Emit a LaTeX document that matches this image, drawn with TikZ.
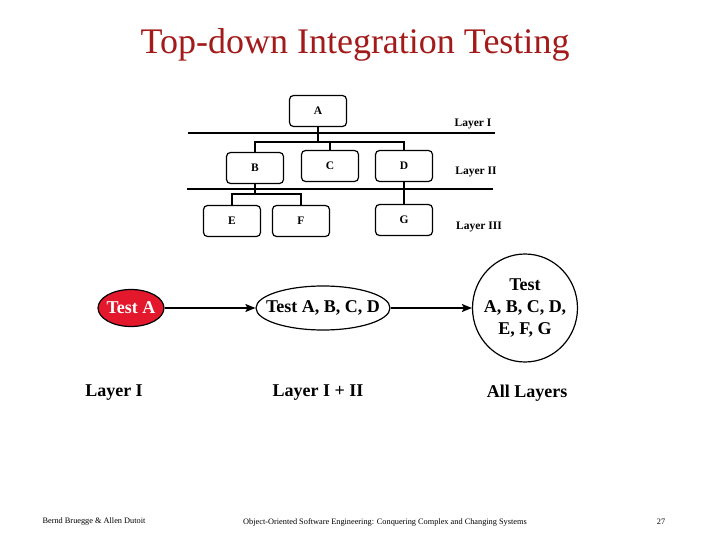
\documentclass[tikz,border=0pt]{standalone}
\usepackage{fontspec}
\setmainfont{Liberation Serif}
\usetikzlibrary{positioning,arrows.meta,shapes.geometric}
\definecolor{titlered}{HTML}{A31A1A}
\definecolor{testred}{HTML}{E3182D}

\begin{document}
\begin{tikzpicture}[x=1pt,y=-1pt,
  module/.style={draw, line width=1.2pt, rounded corners=4pt, minimum width=57pt, minimum height=31pt, inner sep=0pt, font=\fontsize{11.5}{13}\selectfont\bfseries},
  layertag/.style={font=\fontsize{11.5}{13}\selectfont\bfseries},
  stage/.style={draw, ellipse, line width=1.2pt, inner ysep=0pt, align=center, font=\fontsize{18}{22}\selectfont\bfseries},
  layerlbl/.style={font=\fontsize{18}{22}\selectfont\bfseries},
  footer/.style={font=\fontsize{8.3}{9}\selectfont},
  link/.style={line width=1.3pt},
  flow/.style={line width=1.3pt, -{Stealth[length=10pt,width=8pt,inset=2pt]}}]
\useasboundingbox (0,0) rectangle (720,540);
% title
\node[anchor=base, text=titlered, font=\fontsize{36}{40}\selectfont] (title) at (355,54) {Top-down Integration Testing};
% call hierarchy
\node[module] (A) at (318,111) {A};
\node[module] (B) at (255,168) {B};
\node[module] (C) at (330,166) {C};
\node[module] (D) at (404,166) {D};
\node[module] (E) at (232,221) {E};
\node[module] (F) at (301,221) {F};
\node[module] (G) at (404,220) {G};
\coordinate (jA) at (318,142);
\coordinate (jB) at (255,194);
\draw[link] (A.south) -- (jA);
\draw[link] (B.north) |- (jA) -| (D.north);
\draw[link] (C.north) -- (C.north |- jA);
\draw[link] (B.south) -- (jB);
\draw[link] (E.north) |- (jB) -| (F.north);
\draw[link] (D.south) -- (G.north);
% layer separators
\draw[link] (188,133) -- (495,133);
\draw[link] (187,189) -- (493,189);
\node[layertag] (tagI) at (473,124) {Layer I};
\node[layertag] (tagII) at (476,172) {Layer II};
\node[layertag] (tagIII) at (479,227) {Layer III};
% test stages
\node[stage, fill=testred, text=white, inner xsep=-3pt, minimum width=66pt, minimum height=37pt] (tA) at (131,308) {Test A};
\node[stage, inner xsep=-12pt, minimum width=134pt, minimum height=44pt] (tABCD) at (323,308) {Test A, B, C, D};
\node[stage, inner xsep=-7pt, minimum width=105pt, minimum height=108pt] (tAll) at (525,308) {Test\\A, B, C, D,\\E, F, G};
\draw[flow] (tA) -- (tABCD);
\draw[flow] (tABCD) -- (tAll);
\node[layerlbl] (lI) at (114,393) {Layer I};
\node[layerlbl] (lII) at (318,393) {Layer I + II};
\node[layerlbl] (lAll) at (527,393) {All Layers};
% footer
\node[footer] (fl) at (94,522) {Bernd Bruegge \& Allen Dutoit};
\node[footer] (fm) at (385,522) {Object-Oriented Software Engineering: Conquering Complex and Changing Systems};
\node[footer] (fr) at (661,522) {27};
\end{tikzpicture}
\end{document}
